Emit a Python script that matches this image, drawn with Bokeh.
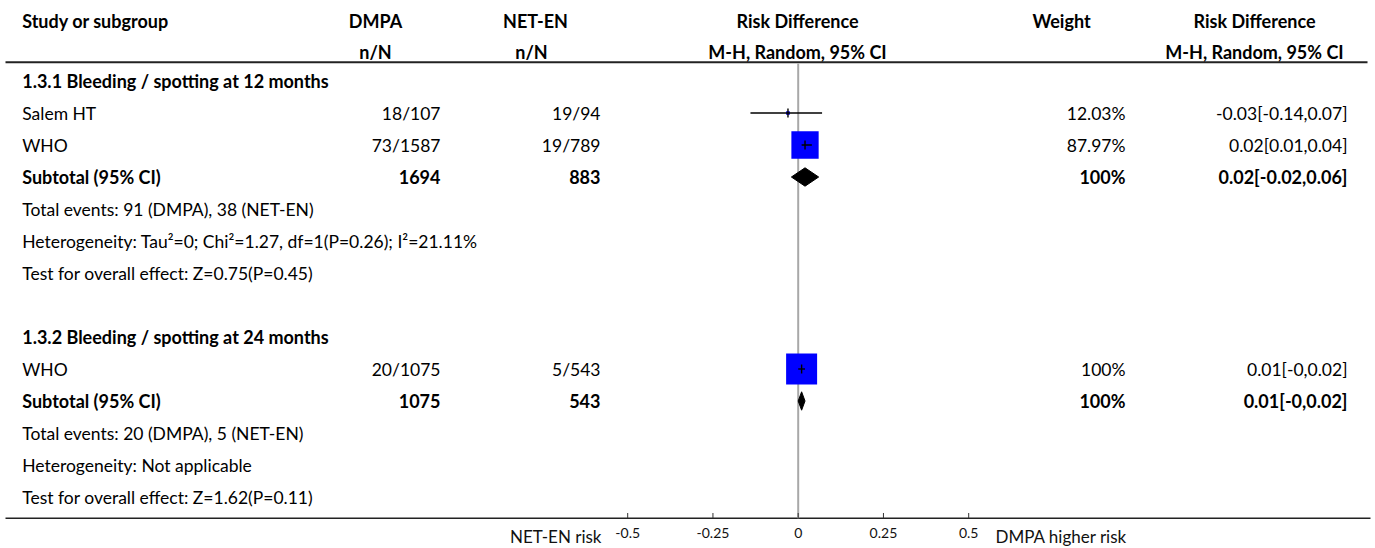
from bokeh.plotting import figure
from bokeh.models import Range1d
from bokeh.core.properties import value
from bokeh.embed import file_html
from bokeh.resources import INLINE

# ---- forest plot data: DMPA vs NET-EN, bleeding / spotting ----
subgroup_titles = ["1.3.1 Bleeding / spotting at 12 months",
                   "1.3.2 Bleeding / spotting at 24 months"]
study_names = [["Salem HT", "WHO"], ["WHO"]]
dmpa_events = [[18, 73], [20]]
dmpa_total = [[107, 1587], [1075]]
neten_events = [[19, 19], [5]]
neten_total = [[94, 789], [543]]
study_weight = [[12.03, 87.97], [100.0]]
study_rd = [[-0.03, 0.02], [0.01]]
study_lo = [[-0.14, 0.01], [-0.0]]
study_hi = [[0.07, 0.04], [0.02]]

subtotal_weight = [100, 100]
subtotal_rd = [0.02, 0.01]
subtotal_lo = [-0.02, -0.0]
subtotal_hi = [0.06, 0.02]

heterogeneity = ["Tau\u00b2=0; Chi\u00b2=1.27, df=1(P=0.26); I\u00b2=21.11%",
                 "Not applicable"]
overall_effect = ["Z=0.75(P=0.45)", "Z=1.62(P=0.11)"]

x_ticks = [-0.5, -0.25, 0, 0.25, 0.5]
x_tick_labels = ["-0.5", "-0.25", "0", "0.25", "0.5"]
left_label = "NET-EN risk"
right_label = "DMPA higher risk"

# ---- layout ----
W, H = 1375, 548
ROW0, ROW_H = 80.5, 32.0          # pixel centre of first table row, row pitch
ZERO_PX, UNIT_PX = 797.7, 341.0   # pixel of RD=0, pixels per RD unit
FONT = value("Lato")
FS = "17.5px"
FS_BOLD = "18px"


def row_y(px):
    return (px - ROW0) / ROW_H


p = figure(width=W, height=H, output_backend="svg", toolbar_location=None,
           x_range=Range1d(0, W), y_range=Range1d(row_y(H), row_y(0)),
           x_axis_location=None, y_axis_location=None, min_border=0)
p.extra_x_ranges = {"rd": Range1d(-ZERO_PX / UNIT_PX, (W - ZERO_PX) / UNIT_PX)}
p.grid.visible = False
p.outline_line_color = None
p.background_fill_color = "white"
p.border_fill_color = "white"

COL_NAME = 21.7
COL_DMPA = 440
COL_NETEN = 600
COL_WEIGHT = 1125
COL_CI = 1347

texts = {"bold": dict(x=[], y=[], t=[], a=[]), "normal": dict(x=[], y=[], t=[], a=[])}


def put(x, y, t, align="left", bold=False):
    d = texts["bold" if bold else "normal"]
    d["x"].append(x); d["y"].append(y); d["t"].append(t); d["a"].append(align)


# header
h1, h2 = row_y(20), row_y(51.5)
put(COL_NAME, h1, "Study or subgroup", bold=True)
put(375, h1, "DMPA", "center", True)
put(375, h2, "n/N", "center", True)
put(535, h1, "NET-EN", "center", True)
put(531, h2, "n/N", "center", True)
put(797, h1, "Risk Difference", "center", True)
put(797, h2, "M-H, Random, 95% CI", "center", True)
put(1061, h1, "Weight", "center", True)
put(1254, h1, "Risk Difference", "center", True)
put(1254, h2, "M-H, Random, 95% CI", "center", True)

fmt_ci = lambda e, l, h: f"{e:g}[{l:g},{h:g}]"

study_rows = dict(rd=[], lo=[], hi=[], y=[], size=[])
sub_rows = dict(rd=[], lo=[], hi=[], y=[])

row = 0
for g, title in enumerate(subgroup_titles):
    put(COL_NAME, row, title, bold=True)
    row += 1
    for i, name in enumerate(study_names[g]):
        put(COL_NAME, row, name)
        put(COL_DMPA, row, f"{dmpa_events[g][i]}/{dmpa_total[g][i]}", "right")
        put(COL_NETEN, row, f"{neten_events[g][i]}/{neten_total[g][i]}", "right")
        put(COL_WEIGHT, row, f"{study_weight[g][i]:g}%", "right")
        put(COL_CI, row, fmt_ci(study_rd[g][i], study_lo[g][i], study_hi[g][i]), "right")
        study_rows["rd"].append(study_rd[g][i])
        study_rows["lo"].append(study_lo[g][i])
        study_rows["hi"].append(study_hi[g][i])
        study_rows["y"].append(row)
        study_rows["size"].append(31 * study_weight[g][i] / 100)
        row += 1
    put(COL_NAME, row, "Subtotal (95% CI)", bold=True)
    put(COL_DMPA, row, f"{sum(dmpa_total[g])}", "right", True)
    put(COL_NETEN, row, f"{sum(neten_total[g])}", "right", True)
    put(COL_WEIGHT, row, f"{subtotal_weight[g]:g}%", "right", True)
    put(COL_CI, row, fmt_ci(subtotal_rd[g], subtotal_lo[g], subtotal_hi[g]), "right", True)
    sub_rows["rd"].append(subtotal_rd[g])
    sub_rows["lo"].append(subtotal_lo[g])
    sub_rows["hi"].append(subtotal_hi[g])
    sub_rows["y"].append(row)
    row += 1
    put(COL_NAME, row, f"Total events: {sum(dmpa_events[g])} (DMPA), {sum(neten_events[g])} (NET-EN)")
    row += 1
    put(COL_NAME, row, f"Heterogeneity: {heterogeneity[g]}")
    row += 1
    put(COL_NAME, row, f"Test for overall effect: {overall_effect[g]}")
    row += 2

# table rules
p.segment(x0=[5], x1=[1367], y0=[row_y(61.7)], y1=[row_y(61.7)], line_color="#222222", line_width=2)
axis_y = row_y(517.7)
p.segment(x0=[5], x1=[1370], y0=[axis_y], y1=[axis_y], line_color="#222222", line_width=1.5)

# zero reference line
p.segment(x0=[0], x1=[0], y0=[row_y(63)], y1=[axis_y], x_range_name="rd",
          line_color="#a8a8a8", line_width=2)

# axis ticks and labels
p.segment(x0=x_ticks, x1=x_ticks, y0=[row_y(512.5)] * len(x_ticks), y1=[axis_y] * len(x_ticks),
          x_range_name="rd", line_color="#333333", line_width=1)
p.text(x=x_ticks, y=[row_y(532.5)] * len(x_ticks), text=x_tick_labels, x_range_name="rd",
       text_font=FONT, text_font_size="14px", text_align="center", text_baseline="middle",
       text_color="#111111")
p.text(x=[601], y=[row_y(536)], text=[left_label], text_font=FONT, text_font_size="17px",
       text_align="right", text_baseline="middle", text_color="#111111")
p.text(x=[995], y=[row_y(536)], text=[right_label], text_font=FONT, text_font_size="17px",
       text_align="left", text_baseline="middle", text_color="#111111")

# study boxes, CI lines and point ticks
p.rect(x="rd", y="y", width="size", height="size", source=study_rows, x_range_name="rd",
       width_units="screen", height_units="screen", fill_color="#0000ff", line_color=None)
p.segment(x0="lo", x1="hi", y0="y", y1="y", source=study_rows, x_range_name="rd",
          line_color="#000000", line_width=1.4)
p.rect(x="rd", y="y", width=1.4, height=9, source=study_rows, x_range_name="rd",
       width_units="screen", height_units="screen", fill_color="#000000", line_color=None)

# subtotal diamonds
dh = 9.2 / ROW_H
p.patches(xs=[[l, e, h, e] for l, e, h in zip(sub_rows["lo"], sub_rows["rd"], sub_rows["hi"])],
          ys=[[y, y - dh, y, y + dh] for y in sub_rows["y"]], x_range_name="rd",
          fill_color="#000000", line_color="#000000", line_width=1)

# table text
for style, d in texts.items():
    for align in ("left", "center", "right"):
        idx = [k for k, a in enumerate(d["a"]) if a == align]
        if not idx:
            continue
        p.text(x=[d["x"][k] for k in idx], y=[d["y"][k] for k in idx],
               text=[d["t"][k] for k in idx], text_font=FONT,
               text_font_size=FS_BOLD if style == "bold" else FS,
               text_font_style=style, text_align=align, text_baseline="middle",
               text_color="#000000")

open("out.html", "w").write(file_html(p, INLINE))
